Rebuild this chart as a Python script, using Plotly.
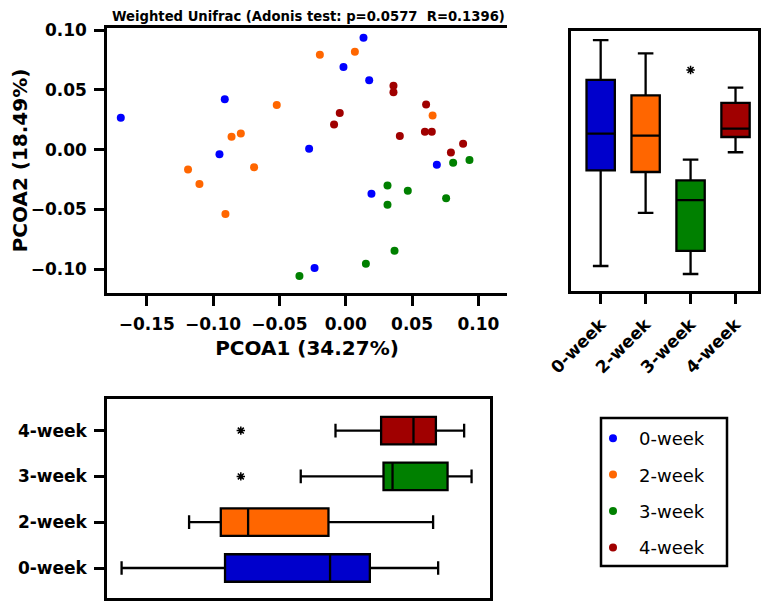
import plotly.graph_objects as go

# ---------------- data ----------------
groups = ["0-week", "2-week", "3-week", "4-week"]
scatter_colors = ["#0000FF", "#FF6600", "#008000", "#A00000"]
box_colors = ["#0000CC", "#FF6600", "#008000", "#A00000"]

wk0_x = [-0.1696, -0.0912, -0.0952, 0.0134, -0.0017, 0.0177, -0.0276, 0.0687, 0.0194, -0.0235]
wk0_y = [0.0266, 0.0420, -0.0040, 0.0935, 0.0690, 0.0579, 0.0007, -0.0127, -0.0370, -0.0990]
wk2_x = [-0.0520, -0.0861, -0.0791, -0.1189, -0.0691, -0.1103, -0.0907, -0.0195, 0.0069, 0.0655]
wk2_y = [0.0372, 0.0107, 0.0135, -0.0166, -0.0149, -0.0288, -0.0539, 0.0793, 0.0818, 0.0286]
wk3_x = [0.0933, 0.0810, 0.0315, 0.0468, 0.0315, 0.0757, 0.0368, 0.0152, -0.0349]
wk3_y = [-0.0088, -0.0110, -0.0300, -0.0344, -0.0461, -0.0408, -0.0846, -0.0955, -0.1058]
wk4_x = [0.0360, 0.0360, 0.0606, -0.0045, -0.0088, 0.0408, 0.0597, 0.0649, 0.0885, 0.0793]
wk4_y = [0.0534, 0.0480, 0.0378, 0.0305, 0.0210, 0.0113, 0.0149, 0.0149, 0.0048, -0.0024]

# PCOA1 box statistics (bottom panel)
pc1_low = [-0.1690, -0.1181, -0.0339, -0.0077]
pc1_q1 = [-0.0910, -0.0942, 0.0285, 0.0267]
pc1_med = [-0.0118, -0.0736, 0.0353, 0.0511]
pc1_q3 = [0.0182, -0.0130, 0.0768, 0.0680]
pc1_high = [0.0697, 0.0659, 0.0949, 0.0893]
pc1_out_groups = ["3-week", "4-week"]
pc1_out_vals = [-0.0791, -0.0791]

# PCOA2 box statistics (right panel)
pc2_low = [-0.0990, -0.0538, -0.1058, -0.0021]
pc2_q1 = [-0.0175, -0.0189, -0.0862, 0.0109]
pc2_med = [0.0137, 0.0120, -0.0428, 0.0180]
pc2_q3 = [0.0595, 0.0464, -0.0260, 0.0399]
pc2_high = [0.0935, 0.0822, -0.0084, 0.0529]
pc2_out_groups = ["3-week"]
pc2_out_vals = [0.0680]

x_ticks = [-0.15, -0.10, -0.05, 0.00, 0.05, 0.10]
y_ticks = [-0.10, -0.05, 0.00, 0.05, 0.10]

title_text = "Weighted Unifrac (Adonis test: p=0.0577\u00a0 R=0.1396)"
xtitle = "PCOA1 (34.27%)"
ytitle = "PCOA2 (18.49%)"

# ---------------- layout helpers ----------------
OFF = 8                     # page body margin
W, H = 778 - OFF, 607 - OFF
FONT = "DejaVu Sans"


def dx(p):
    return (p - OFF) / W


def dy(p):
    return 1 - (p - OFF) / H


fig = go.Figure()

pts = [(wk0_x, wk0_y), (wk2_x, wk2_y), (wk3_x, wk3_y), (wk4_x, wk4_y)]
for i, (g, (xs, ys)) in enumerate(zip(groups, pts)):
    fig.add_trace(go.Scatter(
        x=xs, y=ys, mode="markers", name=g, legendgroup=g,
        marker=dict(color=scatter_colors[i], size=8, line=dict(width=0)),
        xaxis="x", yaxis="y"))

star = dict(symbol="asterisk-open", size=7, color="black", line=dict(color="black", width=1.5))

# right panel: vertical boxes (PCOA2)
for i, g in enumerate(groups):
    fig.add_trace(go.Box(
        x=[g], q1=[pc2_q1[i]], median=[pc2_med[i]], q3=[pc2_q3[i]],
        lowerfence=[pc2_low[i]], upperfence=[pc2_high[i]],
        fillcolor=box_colors[i], line=dict(color="black", width=2.3),
        width=0.63, whiskerwidth=0.55, boxpoints=False, showlegend=False,
        hoverinfo="skip", xaxis="x2", yaxis="y2"))
fig.add_trace(go.Scatter(x=pc2_out_groups, y=pc2_out_vals, mode="markers", marker=star,
                         showlegend=False, hoverinfo="skip", xaxis="x2", yaxis="y2"))

# bottom panel: horizontal boxes (PCOA1)
for i, g in enumerate(groups):
    fig.add_trace(go.Box(
        y=[g], q1=[pc1_q1[i]], median=[pc1_med[i]], q3=[pc1_q3[i]],
        lowerfence=[pc1_low[i]], upperfence=[pc1_high[i]], orientation="h",
        fillcolor=box_colors[i], line=dict(color="black", width=2.3),
        width=0.6, whiskerwidth=0.5, boxpoints=False, showlegend=False,
        hoverinfo="skip", xaxis="x3", yaxis="y3"))
fig.add_trace(go.Scatter(x=pc1_out_vals, y=pc1_out_groups, mode="markers", marker=star,
                         showlegend=False, hoverinfo="skip", xaxis="x3", yaxis="y3"))

axis_common = dict(showgrid=False, zeroline=False, linecolor="black", linewidth=2.5,
                   tickcolor="black", tickwidth=2.5, ticklen=10, ticks="outside",
                   automargin=False, ticklabelstandoff=4,
                   tickfont=dict(family=FONT, size=17, color="black", weight="bold"))
frame = dict(showgrid=False, zeroline=False, showline=True, mirror=True, linecolor="black",
             linewidth=2.5, ticks="", showticklabels=False, automargin=False)

fig.update_layout(
    width=W, height=H, margin=dict(l=0, r=0, t=0, b=0, autoexpand=False),
    paper_bgcolor="white", plot_bgcolor="white", boxmode="overlay",
    font=dict(family=FONT, color="black"),
    xaxis=dict(**axis_common, domain=[dx(107), dx(507)], range=[-0.18, 0.1216],
               tickvals=x_ticks, tickformat=".2f", showline=True, mirror=True,
               title=dict(text=xtitle, font=dict(family=FONT, size=20, weight="bold"), standoff=8),
               anchor="y"),
    yaxis=dict(**axis_common, domain=[dy(293), dy(28)], range=[-0.12, 0.1017],
               tickvals=y_ticks, tickformat=".2f", showline=True,
               title=dict(text=ytitle, font=dict(family=FONT, size=20, weight="bold"), standoff=10),
               anchor="x"),
    xaxis2=dict(**axis_common, domain=[dx(571), dx(758)], range=[-0.66, 3.5], type="category",
                tickangle=-45, showline=True, mirror=True, anchor="y2"),
    yaxis2=dict(**frame, domain=[dy(291), dy(31)], range=[-0.1203, 0.1012], anchor="x2"),
    xaxis3=dict(**frame, domain=[dx(107), dx(490)], range=[-0.18, 0.1088], anchor="y3"),
    yaxis3=dict(**axis_common, domain=[dy(598), dy(399)], range=[-0.655, 3.69], type="category",
                categoryorder="array", categoryarray=groups,
                showline=True, mirror=True, anchor="x3"),
    legend=dict(x=dx(587), y=dy(420), xanchor="left", yanchor="top",
                borderwidth=0, bgcolor="rgba(0,0,0,0)",
                font=dict(family=FONT, size=18, color="black"),
                tracegroupgap=10, itemwidth=42),
    shapes=[dict(type="rect", xref="paper", yref="paper",
                 x0=dx(601), x1=dx(727), y0=dy(566), y1=dy(418),
                 line=dict(color="black", width=2.5), fillcolor="rgba(0,0,0,0)", layer="above")],
    annotations=[dict(text=title_text, x=dx(308), y=dy(16.5), xref="paper", yref="paper",
                      showarrow=False, xanchor="center", yanchor="middle",
                      font=dict(family=FONT, size=13.2, color="black", weight="bold"))],
)

fig.write_html("out.html")
